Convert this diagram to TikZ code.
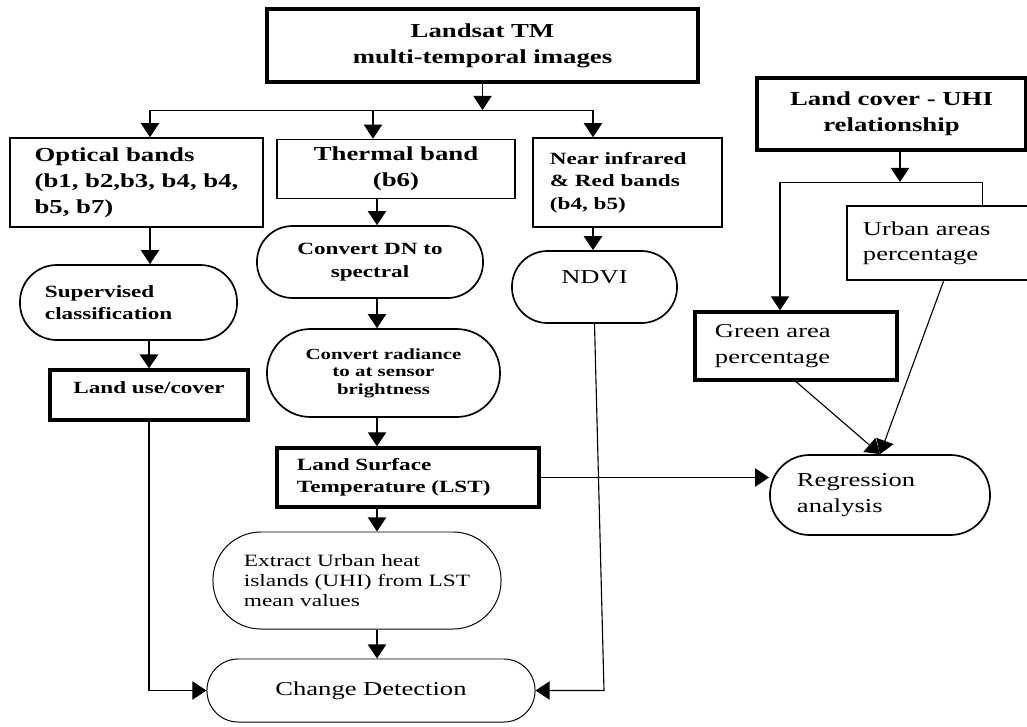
\documentclass[tikz,border=0pt]{standalone}
\usepackage{fontspec}
\setmainfont{Liberation Serif}[FakeStretch=1.35]
\usetikzlibrary{arrows.meta}

\tikzset{
  box/.style={draw, line width=1.1pt, inner sep=0pt},
  heavy/.style={draw, line width=2.3pt, inner sep=0pt},
  pill/.style={draw, line width=1.2pt, inner sep=0pt, rounded corners=#1},
  thinpill/.style={draw, line width=0.7pt, inner sep=0pt, rounded corners=#1},
  bigb/.style={font=\fontsize{14.1}{18.5}\selectfont\bfseries},
  smallb/.style={font=\fontsize{12.2}{16}\selectfont\bfseries},
  txt/.style={font=\fontsize{14}{18}\selectfont},
  arr/.style={-{Triangle[width=13pt,length=10pt]}, line width=0.8pt},
}

\begin{document}
\begin{tikzpicture}[x=0.025cm, y=-0.025cm]
  \useasboundingbox (0,0) rectangle (1027,726);

  % Input images
  \node[heavy, bigb, align=center, minimum width=10.775cm, minimum height=1.825cm] (land) at (482.5,45.5) {Landsat TM\\multi-temporal images};

  % Band groups
  \node[box, bigb, align=left, minimum width=6.325cm, minimum height=2.225cm] (opt) at (136.5,182.5) {Optical bands\\(b1, b2,b3, b4, b4,\\b5, b7)};
  \node[box, bigb, align=center, text depth=3pt, minimum width=5.95cm, minimum height=1.475cm] (therm) at (396,169) {Thermal band\\(b6)};
  \node[box, smallb, align=left, text width=3.875cm, minimum width=4.725cm, minimum height=2.225cm] (nir) at (627.5,182.5) {Near infrared\\\& Red bands\\(b4, b5)};

  % Optical branch
  \node[pill=0.92cm, smallb, align=left, text width=4.175cm, minimum width=5.425cm, minimum height=1.875cm] (sup) at (128.5,302.5) {Supervised\\classification};
  \node[heavy, smallb, text depth=11pt, minimum width=4.95cm, minimum height=1.25cm] (lu) at (149,395) {Land use/cover};

  % Thermal branch
  \node[pill=0.89cm, smallb, align=center, minimum width=5.65cm, minimum height=1.8cm] (dn) at (370,262) {Convert DN to\\spectral};
  \node[pill=1.09cm, font=\fontsize{11}{12.5}\selectfont\bfseries, align=center, minimum width=5.825cm, minimum height=2.2cm] (rad) at (383.5,373) {Convert radiance\\to at sensor\\brightness};
  \node[heavy, smallb, align=left, text width=5.55cm, minimum width=6.55cm, minimum height=1.475cm] (lst) at (408,477.5) {Land Surface\\Temperature (LST)};
  \node[thinpill=1.2cm, font=\fontsize{12.3}{14.2}\selectfont, align=left, minimum width=7.2cm, minimum height=2.425cm] (ext) at (357,580.5) {Extract Urban heat\\islands (UHI) from LST\\mean values};
  \node[thinpill=0.78cm, txt, minimum width=8.2cm, minimum height=1.575cm] (chg) at (371,690.5) {Change Detection};

  % NDVI branch
  \node[pill=0.89cm, txt, text depth=13.5pt, minimum width=4.125cm, minimum height=1.8cm] (ndvi) at (594.5,287) {NDVI};

  % Relationship branch
  \node[heavy, bigb, align=center, minimum width=6.725cm, minimum height=1.8cm] (lcu) at (891.5,114) {Land cover - UHI\\relationship};
  \node[draw, line width=1.8pt, inner sep=0pt, txt, align=left, text width=4.025cm, minimum width=4.825cm, minimum height=1.85cm] (urb) at (943.5,243) {Urban areas\\percentage};
  \node[heavy, txt, align=left, text width=4.05cm, minimum width=5.05cm, minimum height=1.7cm] (grn) at (796,346) {Green area\\percentage};
  \node[pill=0.99cm, txt, align=left, text width=4.15cm, minimum width=5.5cm, minimum height=2cm] (reg) at (880,495) {Regression\\analysis};

  % Split points
  \coordinate (b1) at (150,110);
  \coordinate (b2) at (373,110);
  \coordinate (b3) at (593,110);
  \coordinate (col) at (377,0);
  \coordinate (nd) at (604,690.5);
  \coordinate (rl) at (780,182);
  \coordinate (rm) at (900,182);
  \coordinate (rr) at (982,182);

  % Connectors
  \draw[arr] (land.south) -- (land.south |- b1);
  \draw (b1) -- (b3);
  \draw[arr] (b1) -- (b1 |- opt.north);
  \draw[arr] (b2) -- (b2 |- therm.north);
  \draw[arr] (b3) -- (b3 |- nir.north);
  \draw[arr] (opt.south -| b1) -- (sup.north -| b1);
  \draw[arr, line width=1.4pt] (sup.south -| lu) -- (lu.north);
  \draw[arr] (lu.south) |- (chg.west);
  \draw[arr] (therm.south -| col) -- (dn.north -| col);
  \draw[arr] (dn.south -| col) -- (rad.north -| col);
  \draw[arr] (rad.south -| col) -- (lst.north -| col);
  \draw[arr] (lst.south -| col) -- (ext.north -| col);
  \draw[arr] (ext.south -| col) -- (chg.north -| col);
  \draw[arr, line width=1.4pt] (nir.south -| b3) -- (ndvi.north -| b3);
  \draw[arr] (ndvi.south) -- (nd) -- (chg.east);
  \draw[arr] (lst.east) -- (lst.east -| reg.west);
  \draw[arr] (lcu.south -| rm) -- (rm);
  \draw (rl) -- (rr) -- (rr |- urb.north);
  \draw[arr] (rl) -- (rl |- grn.north);
  \draw[arr] (grn.south) -- (reg.north);
  \draw[arr] (urb.south) -- (reg.north);
\end{tikzpicture}
\end{document}
